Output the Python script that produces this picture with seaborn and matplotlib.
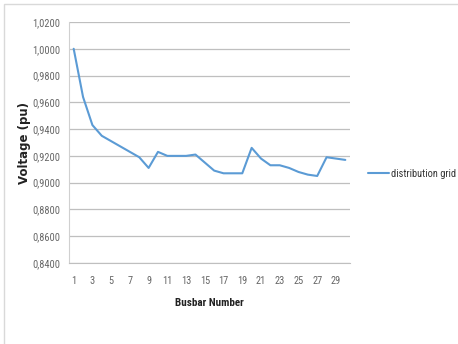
import matplotlib
matplotlib.use("Agg")
import matplotlib.pyplot as plt
from matplotlib.patches import Rectangle
import seaborn as sns
import pandas as pd

busbars = list(range(1, 31))
voltage = [1.000, 0.964, 0.943, 0.935, 0.931, 0.927, 0.923, 0.919, 0.911, 0.923,
           0.920, 0.920, 0.920, 0.921, 0.915, 0.909, 0.907, 0.907, 0.907, 0.926,
           0.918, 0.913, 0.913, 0.911, 0.908, 0.906, 0.905, 0.919, 0.918, 0.917]
series_name = "distribution grid"
y_ticks = [0.84, 0.86, 0.88, 0.90, 0.92, 0.94, 0.96, 0.98, 1.00, 1.02]
x_ticks = list(range(1, 30, 2))

sns.set_style("white")
# narrow face for the chart text, with plain Roboto as the fallback
narrow = ["Roboto Condensed", "Roboto", "DejaVu Sans"]
plt.rcParams["font.family"] = narrow
plt.rcParams["font.style"] = "normal"

df = pd.DataFrame({"Busbar": busbars, "Voltage": voltage, "Series": series_name})

fig = plt.figure(figsize=(4.58, 3.44), dpi=100)
ax = fig.add_axes([69 / 458, 1 - 263 / 344, 281 / 458, 241 / 344])

sns.lineplot(data=df, x="Busbar", y="Voltage", hue="Series", palette=["#5B9BD5"],
             linewidth=1.5, ax=ax)

ax.set_xlim(0.5, 30.5)
ax.set_ylim(0.84, 1.02)
ax.set_yticks(y_ticks)
ax.set_yticklabels([f"{v:.4f}".replace(".", ",") for v in y_ticks])
ax.set_xticks(x_ticks)
ax.set_xticklabels([str(t) for t in x_ticks])
ax.tick_params(axis="both", length=0, colors="#666666", labelsize=7.5)
ax.tick_params(axis="x", pad=9)
ax.tick_params(axis="y", pad=6)

ax.grid(axis="y", color="#bfbfbf", linewidth=0.9)
ax.set_axisbelow(True)
for side in ["top", "right"]:
    ax.spines[side].set_visible(False)
ax.spines["left"].set_color("#d0d0d0")
ax.spines["bottom"].set_color("#bfbfbf")

ax.set_xlabel("Busbar Number", fontsize=8, fontweight="bold", color="#222222",
              labelpad=9)
ax.set_ylabel("Voltage (pu)", fontsize=8.5, fontweight="bold", color="#222222",
              family="DejaVu Sans", labelpad=1)

leg = ax.legend(loc="center left", bbox_to_anchor=(1.03, 0.37), frameon=False,
                fontsize=7.5, handlelength=2.0, handletextpad=0.2)
for t in leg.get_texts():
    t.set_color("#333333")

fig.patches.append(Rectangle((4 / 458, -0.01), 1.0, 1 - 4 / 344 + 0.01,
                             transform=fig.transFigure, fill=False,
                             edgecolor="#d9d9d9", linewidth=1.0))

fig.savefig("out.png", dpi=100)
